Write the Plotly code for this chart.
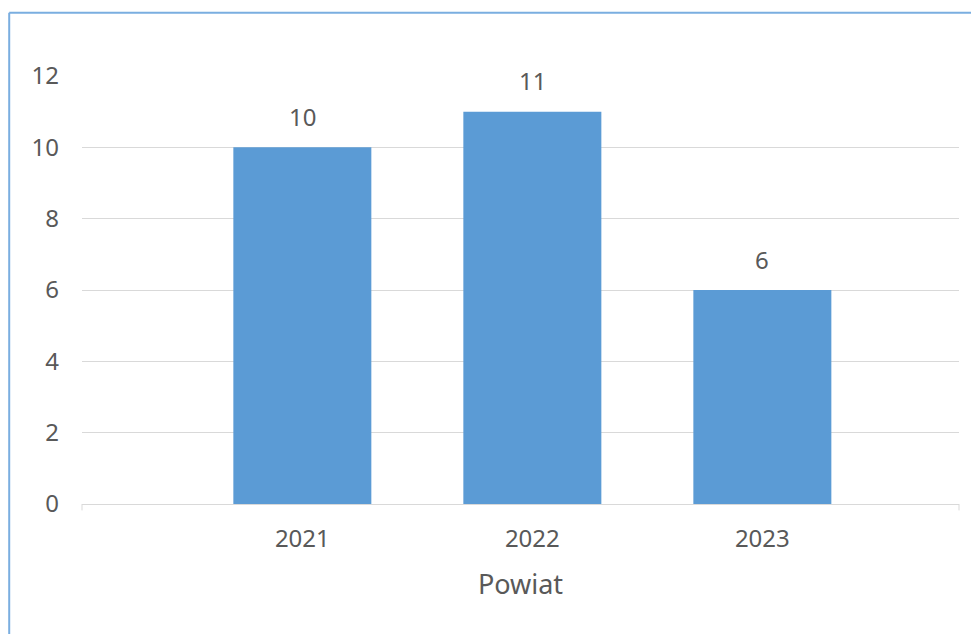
import plotly.graph_objects as go

years = ["2021", "2022", "2023"]
counts = [10, 11, 6]
y_ticks = [0, 2, 4, 6, 8, 10, 12]

bar_color = "#5b9bd5"
text_color = "#595959"
font_name = "Noto Sans"

fig = go.Figure(
    data=[
        go.Bar(
            x=years,
            y=counts,
            marker=dict(color=bar_color, line=dict(width=0)),
            width=0.6,
            hoverinfo="skip",
        )
    ]
)

# data labels above each bar (x by category index)
for i, val in enumerate(counts):
    fig.add_annotation(
        x=i, y=val, text=str(val), showarrow=False, yanchor="middle",
        yshift=31, font=dict(family=font_name, size=24, color=text_color),
    )

# blue frame on the left and top (chart border)
frame = "#7aaee0"
fig.add_shape(type="line", xref="paper", yref="paper", x0=-0.083, x1=-0.083,
              y0=-0.4, y1=1.148, line=dict(color=frame, width=2))
fig.add_shape(type="line", xref="paper", yref="paper", x0=-0.083, x1=1.1,
              y0=1.148, y1=1.148, line=dict(color=frame, width=2))
# small end ticks on the category axis
for px in (0, 1):
    fig.add_shape(type="line", xref="paper", yref="paper", x0=px, x1=px,
                  y0=0, y1=-0.015, line=dict(color="#d9d9d9", width=1))

fig.update_xaxes(
    type="category",
    range=[-0.958, 2.855],
    showgrid=False,
    showline=True,
    linecolor="#d9d9d9",
    linewidth=1,
    ticks="",
    ticklabelstandoff=13,
    tickfont=dict(family=font_name, size=24, color=text_color),
    title=dict(text="Powiat", standoff=22,
               font=dict(family=font_name, size=27, color=text_color)),
)
fig.update_yaxes(
    range=[0, 12],
    tickvals=y_ticks,
    showgrid=True,
    gridcolor="#d9d9d9",
    gridwidth=1,
    zeroline=False,
    showline=False,
    ticks="",
    ticklabelstandoff=22,
    tickfont=dict(family=font_name, size=24, color=text_color),
)
# page body adds 8px offset, so the figure is sized/margined to compensate
fig.update_layout(
    width=971,
    height=626,
    margin=dict(l=74, r=20, t=68, b=130),
    plot_bgcolor="white",
    paper_bgcolor="white",
    showlegend=False,
)

fig.write_html("out.html")
